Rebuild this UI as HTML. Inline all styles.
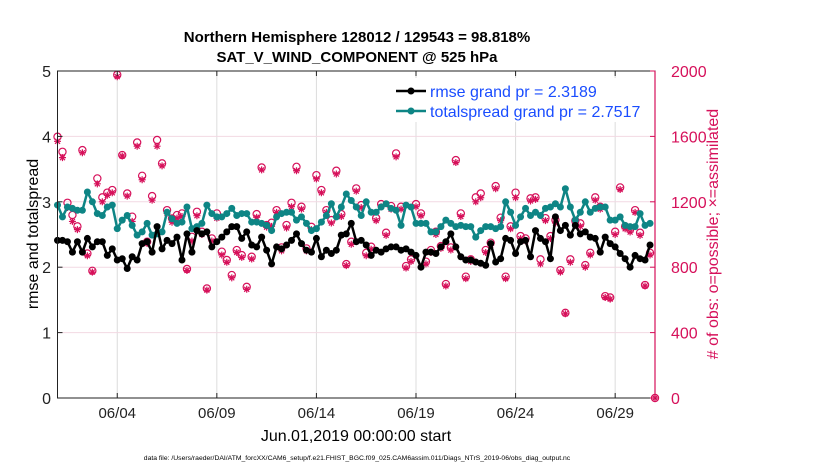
<!DOCTYPE html>
<html><head><meta charset="utf-8"><style>
body{margin:0;background:#fff;font-family:"Liberation Sans",sans-serif}
svg{display:block}
</style></head><body>
<svg id="chart" width="830" height="470" viewBox="0 0 830 470" xmlns="http://www.w3.org/2000/svg">
<text x="357" y="42" text-anchor="middle" font-size="15" font-weight="bold" font-family="Liberation Sans, sans-serif">Northern Hemisphere 128012 / 129543 = 98.818%</text>
<text x="357" y="62" text-anchor="middle" font-size="15" font-weight="bold" font-family="Liberation Sans, sans-serif">SAT_V_WIND_COMPONENT @ 525 hPa</text>
<g id="grid"></g>
<g id="obs"></g>
<g id="lines"></g>
<rect x="57.5" y="71" width="597.5" height="327" fill="none" stroke="#222" stroke-width="1"/>
<line x1="655" y1="71" x2="655" y2="398" stroke="#d6105a" stroke-width="1.2"/>
<g id="axes"></g>
<g>
<rect x="392" y="78" width="258" height="44" fill="#fff"/>
<line x1="396" y1="91" x2="426" y2="91" stroke="#000" stroke-width="2.5"/>
<circle cx="411" cy="91" r="3.5" fill="#000"/>
<text x="430" y="97" font-size="16" fill="#1a4dff">rmse grand pr = 2.3189</text>
<line x1="396" y1="111" x2="426" y2="111" stroke="#0e8585" stroke-width="2.5"/>
<circle cx="411" cy="111" r="3.5" fill="#0e8585"/>
<text x="430" y="117" font-size="16" fill="#1a4dff">totalspread grand pr = 2.7517</text>
</g>
<text transform="translate(38,234) rotate(-90)" text-anchor="middle" font-size="16">rmse and totalspread</text>
<text transform="translate(718,234) rotate(-90)" text-anchor="middle" font-size="16" fill="#d6105a"># of obs: o=possible; ×=assimilated</text>
<text x="356" y="441" text-anchor="middle" font-size="16">Jun.01,2019 00:00:00 start</text>
<text x="357" y="460" text-anchor="middle" font-size="6.8">data file: /Users/raeder/DAI/ATM_forcXX/CAM6_setup/f.e21.FHIST_BGC.f09_025.CAM6assim.011/Diags_NTrS_2019-06/obs_diag_output.nc</text>
</svg>
<script>
const xTickLabels=["06/04","06/09","06/14","06/19","06/24","06/29"];
const xTickDays=[3,8,13,18,23,28];
const leftTicks=[0,1,2,3,4,5];
const rightTicks=[0,400,800,1200,1600,2000];
const rmse=[2.41,2.41,2.39,2.23,2.39,2.23,2.44,2.31,2.39,2.39,2.18,2.28,2.11,2.13,1.98,2.16,2.11,2.36,2.39,2.23,2.62,2.28,2.41,2.36,2.46,2.11,2.51,2.23,2.56,2.51,2.54,
2.31,2.39,2.46,2.54,2.62,2.62,2.44,2.54,2.34,2.31,2.46,2.26,2.05,2.31,2.28,2.34,2.41,2.51,2.36,2.26,2.23,2.44,2.16,2.26,2.21,2.26,2.49,2.51,2.67,2.39,
2.41,2.34,2.18,2.26,2.23,2.28,2.31,2.31,2.26,2.28,2.23,2.18,2.00,2.23,2.23,2.21,2.31,2.39,2.51,2.31,2.16,2.11,2.11,2.08,2.06,2.03,2.36,2.08,2.13,2.44,
2.41,2.21,2.39,2.41,2.16,2.56,2.44,2.39,2.13,2.77,2.56,2.64,2.49,2.64,2.51,2.54,2.46,2.44,2.23,2.46,2.36,2.31,2.21,2.13,2.00,2.18,2.13,2.11,2.34];
const spread=[2.95,2.77,2.92,2.90,2.87,2.87,3.15,3.00,2.82,2.79,2.92,2.95,2.59,2.72,2.79,2.64,2.49,2.54,2.67,2.49,2.51,2.54,2.84,2.74,2.67,2.69,2.92,2.59,2.62,2.67,2.95,
2.82,2.77,2.77,2.82,2.90,2.79,2.82,2.82,2.69,2.69,2.67,2.64,2.56,2.77,2.82,2.84,2.84,2.72,2.77,2.67,2.56,2.59,2.69,2.79,2.97,2.77,2.92,3.12,3.02,2.92,
2.79,3.00,2.84,2.84,2.92,2.97,2.90,2.87,2.64,2.95,2.92,2.67,2.67,2.67,2.54,2.54,2.62,2.72,2.67,2.62,2.64,2.62,2.62,2.46,2.56,2.62,2.62,2.59,2.62,3.00,
2.84,2.64,2.77,2.90,2.79,2.84,2.79,2.90,2.92,2.97,2.92,3.20,2.92,2.72,2.84,3.00,2.84,2.90,2.92,2.92,2.72,2.72,2.77,2.64,2.62,2.62,2.82,2.64,2.67];
const possible=[1598,1506,1194,1119,1050,1516,884,778,1343,1227,1256,1272,1977,1486,1251,1109,1563,1359,956,1235,1578,1435,1149,1098,1119,1129,789,986,1139,1017,670,
976,1129,895,844,752,905,874,680,864,1125,1410,1058,1072,1149,921,1058,1194,1414,1170,915,1047,1363,1272,1149,1088,1390,1125,819,956,1282,
1180,888,925,1100,1186,1011,1174,1496,1170,807,848,1186,1129,834,905,1017,929,697,921,1455,1129,742,848,1227,1251,905,950,1296,1103,742,
1050,1256,990,976,1221,1227,848,1100,990,1088,782,521,848,1084,1068,813,888,1227,1170,623,615,1017,1288,1050,1031,1149,1011,691,888,0];
const assimilated=[1570,1470,1165,1080,1030,1500,870,770,1310,1200,1240,1255,1965,1480,1235,1080,1540,1335,945,1210,1540,1420,1130,1075,1100,1110,780,960,1115,1000,660,
960,1100,875,830,735,890,860,665,850,1105,1395,1045,1050,1135,900,1040,1170,1390,1155,900,1030,1340,1255,1135,1070,1370,1110,810,940,1265,
1165,870,910,1085,1170,995,1155,1475,1155,795,835,1170,1115,820,890,1000,915,685,905,1440,1110,730,835,1200,1225,890,935,1280,1085,730,
1035,1225,975,960,1205,1215,820,1085,975,1070,770,515,830,1065,1050,800,875,1210,1155,615,605,1000,1275,1035,1015,1135,995,685,875,0];
const stepDays=0.25;
const NS="http://www.w3.org/2000/svg";
const X0=57.5,X1=655,Y0=398,Y1=71;
function xs(d){return X0+(d/30)*(X1-X0);}
function yl(v){return Y0-(v/5)*(Y0-Y1);}
function yr(c){return Y0-(c/2000)*(Y0-Y1);}
function mk(tag,attrs,parent){const e=document.createElementNS(NS,tag);for(const k in attrs)e.setAttribute(k,attrs[k]);parent.appendChild(e);return e;}
const grid=document.getElementById('grid'),axes=document.getElementById('axes'),obsG=document.getElementById('obs'),linesG=document.getElementById('lines');
xTickDays.forEach((d,i)=>{
 const g=mk('line',{x1:xs(d),x2:xs(d),y1:Y1,y2:Y0,stroke:'#dcdcdc','stroke-width':1},grid);
 
 
 const t=mk('line',{x1:xs(d),x2:xs(d),y1:Y0,y2:Y0-5,stroke:'#222'},axes);
 
 
 const t2=mk('line',{x1:xs(d),x2:xs(d),y1:Y1,y2:Y1+5,stroke:'#222'},axes);
 
 
 const l=mk('text',{x:xs(d),y:418,'text-anchor':'middle','font-size':15,fill:'#222'},axes);
 l.textContent=xTickLabels[i];
 
 
});
rightTicks.forEach(c=>{
 const g=mk('line',{x1:X0,x2:X1,y1:yr(c),y2:yr(c),stroke:'#f2d9e3','stroke-width':1},grid);
 
 
 const t=mk('line',{x1:X1,x2:X1-5,y1:yr(c),y2:yr(c),stroke:'#d6105a'},axes);
 
 
 const l=mk('text',{x:671,y:yr(c)+6,'font-size':16,fill:'#d6105a'},axes);
 l.textContent=String(c);
 
 
});
leftTicks.forEach(v=>{
 const t=mk('line',{x1:X0,x2:X0+5,y1:yl(v),y2:yl(v),stroke:'#222'},axes);
 
 
 const l=mk('text',{x:51,y:yl(v)+6,'text-anchor':'end','font-size':16,fill:'#222'},axes);
 l.textContent=String(v);
 
 
});
possible.forEach((c,i)=>{
 const x=Math.min(xs(i*stepDays),X1),y=yr(c);
 const o=mk('circle',{cx:x,cy:y,r:3.6,fill:'none',stroke:'#d6105a','stroke-width':1.2},obsG);
 
 
 const ya=yr(assimilated[i]);
 const a=mk('path',{d:`M${x-3.5},${ya}h7M${x},${ya-3.5}v7M${x-2.5},${ya-2.5}l5,5M${x+2.5},${ya-2.5}l-5,5`,stroke:'#d6105a','stroke-width':1.2},obsG);
 
 
});
function series(vals,color,name){
 const pts=vals.map((v,i)=>xs(i*stepDays).toFixed(1)+','+yl(v).toFixed(1)).join(' ');
 const p=mk('polyline',{points:pts,fill:'none',stroke:color,'stroke-width':2.5,'stroke-linejoin':'round'},linesG);
 
 
 vals.forEach((v,i)=>{
  const c=mk('circle',{cx:xs(i*stepDays),cy:yl(v),r:3.5,fill:color},linesG);
  
  
 });
}
series(spread,'#0e8585','spread');
series(rmse,'#000','rmse');
</script>
</body></html>
